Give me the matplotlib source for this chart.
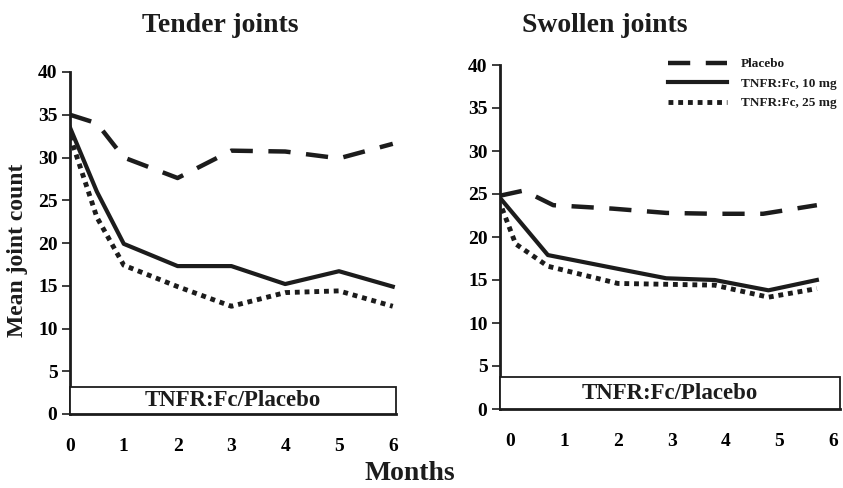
import numpy as np
import matplotlib.pyplot as plt
from matplotlib.patches import Rectangle

plt.rcParams['font.family'] = ['Liberation Serif', 'DejaVu Serif']
plt.rcParams['font.weight'] = 'bold'

# tender joints (left panel)
months = [0, 0.5, 1, 2, 3, 4, 5, 6]
tender_placebo = [35, 34, 30, 27.6, 30.8, 30.7, 29.9, 31.6]
tender_10mg = [33.5, 26, 19.9, 17.3, 17.3, 15.2, 16.7, 14.9]
tender_25mg = [32.5, 23, 17.4, 14.9, 12.6, 14.2, 14.4, 12.6]

# swollen joints (right panel, points drawn slightly off the month ticks)
swollen_placebo_x = [-0.19, 0.25, 0.8, 1.9, 2.9, 3.8, 4.7, 5.7]
swollen_placebo = [24.8, 25.4, 23.7, 23.3, 22.8, 22.7, 22.7, 23.7]
swollen_10mg_x = [-0.17, 0.7, 2.0, 2.9, 3.8, 4.8, 5.7]
swollen_10mg = [24.4, 17.9, 16.3, 15.2, 15.0, 13.8, 15.0]
swollen_25mg_x = [-0.15, 0.1, 0.7, 2.0, 2.9, 3.8, 4.8, 5.7]
swollen_25mg = [23.3, 19.2, 16.6, 14.6, 14.5, 14.4, 13.0, 14.0]

labels = ['Placebo', 'TNFR:Fc, 10 mg', 'TNFR:Fc, 25 mg']
xticks = [0, 1, 2, 3, 4, 5, 6]
yticks = [0, 5, 10, 15, 20, 25, 30, 35, 40]
box_label = 'TNFR:Fc/Placebo'

ink = '#1c1c1c'
W, H = 843, 488
fig = plt.figure(figsize=(W / 100, H / 100), dpi=100)

ax1 = fig.add_axes([70 / W, 1 - 414 / H, 326 / W, 342 / H])
ax2 = fig.add_axes([500 / W, 1 - 409 / H, 340 / W, 344 / H])


def style(ax, xlim, box_top):
    ax.set_xlim(*xlim)
    ax.set_ylim(0, 40)
    for s in ['top', 'right']:
        ax.spines[s].set_visible(False)
    for s in ['left', 'bottom']:
        ax.spines[s].set_linewidth(2.0)
        ax.spines[s].set_color(ink)
    ax.set_xticks(xticks)
    ax.set_yticks(yticks)
    ax.tick_params(axis='x', length=0, pad=17, labelsize=14)
    ax.tick_params(axis='y', length=6, width=1.2, pad=3, labelsize=14,
                   color=ink)
    ax.add_patch(Rectangle((xlim[0], 0), xlim[1] - xlim[0], box_top,
                           facecolor='white', edgecolor=ink, lw=1.3,
                           zorder=3, clip_on=False))
    ax.text((xlim[0] + xlim[1]) / 2, box_top / 2, box_label, ha='center',
            va='center', fontsize=16.5, fontweight='bold', color=ink,
            zorder=4)


def draw(ax, xs, ys):
    l1, = ax.plot(xs[0], ys[0], color=ink, lw=3.2, ls=(0, (5, 3.5)))
    l2, = ax.plot(xs[1], ys[1], color=ink, lw=3, ls='-')
    l3, = ax.plot(xs[2], ys[2], color=ink, lw=3.5, ls=(0, (1, 1)))
    return [l1, l2, l3]


style(ax1, (0, 6.06), 3.1)
style(ax2, (-0.19, 6.13), 3.7)

draw(ax1, [months, months, months],
     [tender_placebo, tender_10mg, tender_25mg])
handles = draw(ax2, [swollen_placebo_x, swollen_10mg_x, swollen_25mg_x],
               [swollen_placebo, swollen_10mg, swollen_25mg])

leg = ax2.legend(handles, labels, loc='upper left',
                 bbox_to_anchor=(668 / W, 1 - 58 / H),
                 bbox_transform=fig.transFigure, frameon=False,
                 prop={'size': 9.5, 'weight': 'bold'}, handlelength=4.5,
                 handletextpad=1.0, labelspacing=0.55, borderpad=0,
                 borderaxespad=0)
for t in leg.get_texts():
    t.set_color(ink)

fig.text(220 / W, 1 - 25 / H, 'Tender joints', ha='center', va='center',
         fontsize=20, fontweight='bold', color=ink)
fig.text(605 / W, 1 - 25 / H, 'Swollen joints', ha='center', va='center',
         fontsize=20, fontweight='bold', color=ink)
fig.text(410 / W, 1 - 474 / H, 'Months', ha='center', va='center',
         fontsize=20, fontweight='bold', color=ink)
fig.text(18 / W, 1 - 250 / H, 'Mean joint count', ha='center', va='center',
         rotation=90, fontsize=17, fontweight='bold', color=ink)

fig.savefig('out.png', dpi=100)
